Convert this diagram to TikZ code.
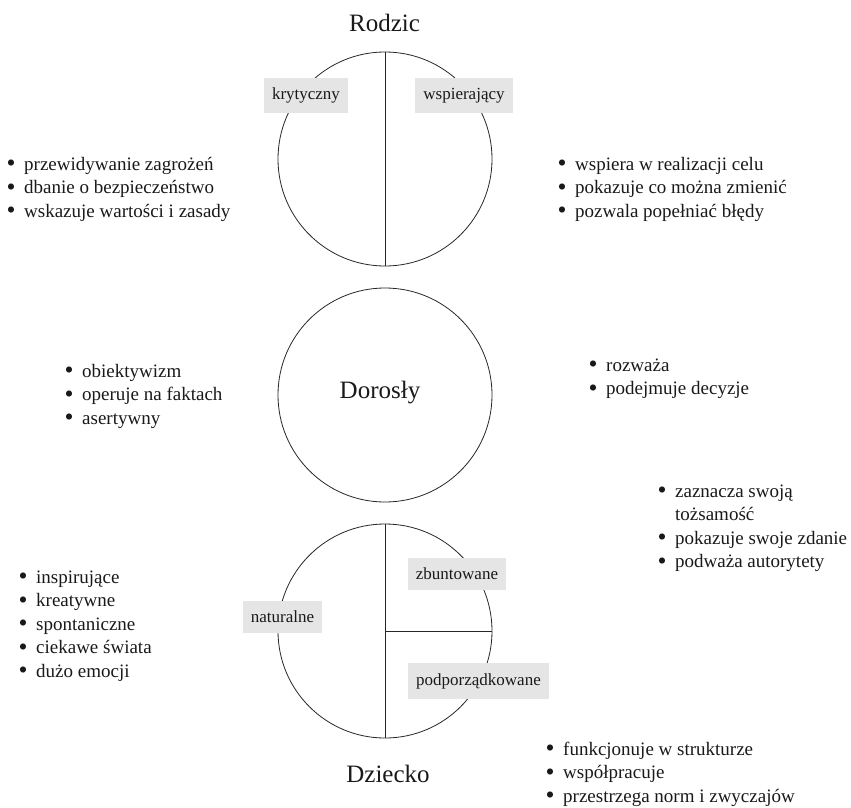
\documentclass[tikz,border=0pt]{standalone}
\usepackage{fontspec}
\setmainfont{Liberation Serif}
% bullet item and continuation indent for the lists
\newcommand\dotmark{\raisebox{-1.6pt}{\scalebox{1.35}{\textbullet}}}
\newcommand\itm{\dotmark\hspace{8.5pt}}
\newcommand\cnt{\phantom{\dotmark\hspace{8.5pt}}}
\begin{document}
\begin{tikzpicture}[x=1pt,y=-1pt,
  ring/.style={circle, draw=black!85, line width=0.8pt, minimum size=214pt, inner sep=0pt},
  divider/.style={draw=black!85, line width=0.8pt},
  title/.style={anchor=base, inner sep=0pt, font=\fontsize{25}{30}\selectfont, text=black!90},
  tag/.style={fill=black!10, inner xsep=8pt, inner ysep=0pt, minimum height=34pt,
              font=\fontsize{17}{20}\selectfont, text=black!90},
  bullets/.style={anchor=north west, align=left, inner sep=0pt,
                  font=\fontsize{19}{23.5}\selectfont, text=black!90}]
\useasboundingbox (0,0) rectangle (851,808);

% the three ego states
\node[ring] (rodzic) at (385,159) {};
\node[ring] (dorosly) at (385,395) {};
\node[ring] (dziecko) at (385,631) {};

% dividers
\draw[divider] (rodzic.north) -- (rodzic.south);
\draw[divider] (dziecko.north) -- (dziecko.south);
\draw[divider] (dziecko.center) -- (dziecko.east);

% titles
\node[title] (tRodzic) at (384.5,32) {Rodzic};
\node[title] (tDorosly) at (380,398) {Dorosły};
\node[title] (tDziecko) at (388,782) {Dziecko};

% grey tags on the circles
\node[tag, minimum height=35pt] (kryt) at (306,95.5) {krytyczny};
\node[tag, minimum height=35pt] (wsp) at (464,95.5) {wspierający};
\node[tag, minimum height=32pt] (zbunt) at (457,574) {zbuntowane};
\node[tag, minimum height=32pt] (natur) at (282.5,617) {naturalne};
\node[tag, minimum height=36pt] (podp) at (478.5,681) {podporządkowane};

% descriptions
\node[bullets] (lRodzicL) at (6.5,153.5)
  {\strut\itm przewidywanie zagrożeń\\ \itm dbanie o bezpieczeństwo\\ \itm wskazuje wartości i zasady};
\node[bullets] (lRodzicR) at (557.5,153.5)
  {\strut\itm wspiera w realizacji celu\\ \itm pokazuje co można zmienić\\ \itm pozwala popełniać błędy};
\node[bullets] (lDoroslyL) at (64.5,360.5)
  {\strut\itm obiektywizm\\ \itm operuje na faktach\\ \itm asertywny};
\node[bullets] (lDoroslyR) at (588.5,354.5)
  {\strut\itm rozważa\\ \itm podejmuje decyzje};
\node[bullets] (lDzieckoL) at (18.5,566.5)
  {\strut\itm inspirujące\\ \itm kreatywne\\ \itm spontaniczne\\ \itm ciekawe świata\\ \itm dużo emocji};
\node[bullets] (lDzieckoUR) at (657.5,480.5)
  {\strut\itm zaznacza swoją\\ \cnt tożsamość\\ \itm pokazuje swoje zdanie\\ \itm podważa autorytety};
\node[bullets] (lDzieckoBR) at (545.5,738.5)
  {\strut\itm funkcjonuje w strukturze\\ \itm współpracuje\\ \itm przestrzega norm i zwyczajów};
\end{tikzpicture}
\end{document}
